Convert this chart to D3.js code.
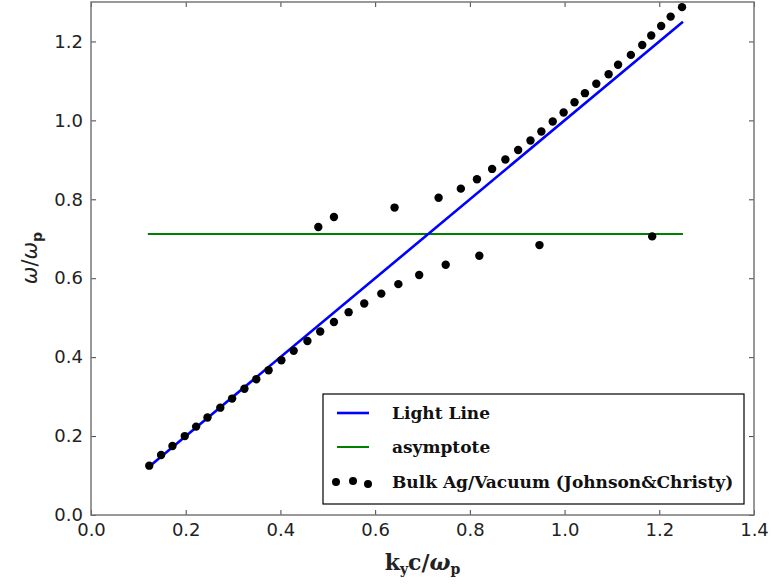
<!DOCTYPE html>
<html><head><meta charset="utf-8">
<script src="https://cdn.jsdelivr.net/npm/d3@7"></script>
<style>body{margin:0;background:#fff}</style>
</head><body>
<svg id="c" width="772" height="585"></svg>
<script>
const lightLineX = [0.12, 1.25];
const lightLineY = [0.12, 1.25];
const asymptoteX = [0.12, 1.25];
const asymptoteY = [0.712, 0.712];
const bulkK = [0.123,0.148,0.172,0.198,0.222,0.246,0.273,0.298,0.324,0.349,0.375,0.402,0.428,0.457,0.484,0.513,0.544,0.577,0.613,0.649,0.693,0.749,0.820,0.947,1.185,
  0.480,0.513,0.641,0.734,0.781,0.815,0.847,0.875,0.902,0.928,0.951,0.975,0.998,1.021,1.043,1.067,1.093,1.113,1.140,1.164,1.183,1.204,1.224,1.248];
const bulkW = [0.125,0.152,0.175,0.200,0.224,0.247,0.272,0.295,0.320,0.344,0.367,0.392,0.416,0.441,0.465,0.489,0.514,0.536,0.561,0.585,0.608,0.634,0.657,0.684,0.706,
  0.730,0.755,0.779,0.804,0.827,0.851,0.877,0.901,0.925,0.949,0.972,0.997,1.020,1.046,1.069,1.093,1.117,1.141,1.166,1.191,1.215,1.239,1.263,1.287];
const xTicks = [0.0,0.2,0.4,0.6,0.8,1.0,1.2,1.4];
const yTicks = [0.0,0.2,0.4,0.6,0.8,1.0,1.2];
const legendLabels = ["Light Line","asymptote","Bulk Ag/Vacuum (Johnson&Christy)"];

const svg = d3.select("#c");
const L=91, R=754, T=2, B=515;
const x = d3.scaleLinear().domain([0,1.4]).range([L,R]);
const y = d3.scaleLinear().domain([0,1.3]).range([B,T]);
const tickFont = "DejaVu Sans, sans-serif";

const line = d3.line().x(d=>x(d[0])).y(d=>y(d[1]));
svg.append("path").datum(d3.zip(asymptoteX,asymptoteY)).attr("d",line)
  .attr("stroke","#008000").attr("stroke-width",2).attr("fill","none");
svg.append("path").datum(d3.zip(lightLineX,lightLineY)).attr("d",line)
  .attr("stroke","#0000ff").attr("stroke-width",2.6).attr("fill","none");
svg.append("g").selectAll("circle").data(d3.zip(bulkK,bulkW)).join("circle")
  .attr("cx",d=>x(d[0])).attr("cy",d=>y(d[1])).attr("r",4.2).attr("fill","#000");

// axes
function styleAxis(g){
  g.select(".domain").remove();
  g.selectAll(".tick line").attr("stroke","#444").attr("stroke-width",1);
  g.selectAll(".tick text").attr("fill","#222").attr("font-family",tickFont).attr("font-size","18px");
}
svg.append("g").attr("transform",`translate(0,${B})`)
  .call(d3.axisBottom(x).tickValues(xTicks).tickFormat(d3.format(".1f")).tickSizeInner(-5).tickPadding(8))
  .call(styleAxis);
svg.append("g").attr("transform",`translate(0,${T})`)
  .call(d3.axisTop(x).tickValues(xTicks).tickFormat("").tickSizeInner(-5))
  .call(styleAxis);
svg.append("g").attr("transform",`translate(${L},0)`)
  .call(d3.axisLeft(y).tickValues(yTicks).tickFormat(d3.format(".1f")).tickSizeInner(-5).tickPadding(8))
  .call(styleAxis);
svg.append("g").attr("transform",`translate(${R},0)`)
  .call(d3.axisRight(y).tickValues(yTicks).tickFormat("").tickSizeInner(-5))
  .call(styleAxis);
svg.append("rect").attr("x",L).attr("y",T).attr("width",R-L).attr("height",B-T)
  .attr("fill","none").attr("stroke","#777").attr("stroke-width",1.5);

// axis labels
const xl = svg.append("text").attr("x",(L+R)/2).attr("y",570).attr("text-anchor","middle")
  .attr("font-family","DejaVu Serif, serif").attr("font-weight","bold").attr("font-size","22px").attr("fill","#222");
xl.append("tspan").text("k");
xl.append("tspan").attr("font-size","14px").attr("dy",4).text("y");
xl.append("tspan").attr("dy",-4).text("c/");
xl.append("tspan").attr("font-style","italic").text("ω");
xl.append("tspan").attr("font-size","14px").attr("dy",4).text("p");

const yl = svg.append("text").attr("transform","translate(37,258) rotate(-90)").attr("text-anchor","middle")
  .attr("font-family","DejaVu Sans, sans-serif").attr("font-size","21px").attr("fill","#222");
yl.append("tspan").attr("font-style","italic").text("ω");
yl.append("tspan").text("/");
yl.append("tspan").attr("font-style","italic").text("ω");
yl.append("tspan").attr("font-size","14px").attr("font-weight","bold").attr("dy",5).text("p");

// legend
const lg = svg.append("g");
lg.append("rect").attr("x",323).attr("y",394).attr("width",421).attr("height",110)
  .attr("fill","#fff").attr("stroke","#000").attr("stroke-width",1.2);
const rows=[413,447,482];
lg.append("line").attr("x1",337).attr("x2",369).attr("y1",rows[0]).attr("y2",rows[0]).attr("stroke","#0000ff").attr("stroke-width",2.6);
lg.append("line").attr("x1",337).attr("x2",369).attr("y1",rows[1]).attr("y2",rows[1]).attr("stroke","#008000").attr("stroke-width",2);
[[336,482],[353,481],[368,484]].forEach(p=>lg.append("circle").attr("cx",p[0]).attr("cy",p[1]).attr("r",4).attr("fill","#000"));
legendLabels.forEach((t,i)=>lg.append("text").attr("x",392).attr("y",rows[i]+6)
  .attr("font-family","DejaVu Serif, serif").attr("font-weight","bold").attr("font-size","17px").attr("fill","#111").text(t));
</script>
</body></html>
